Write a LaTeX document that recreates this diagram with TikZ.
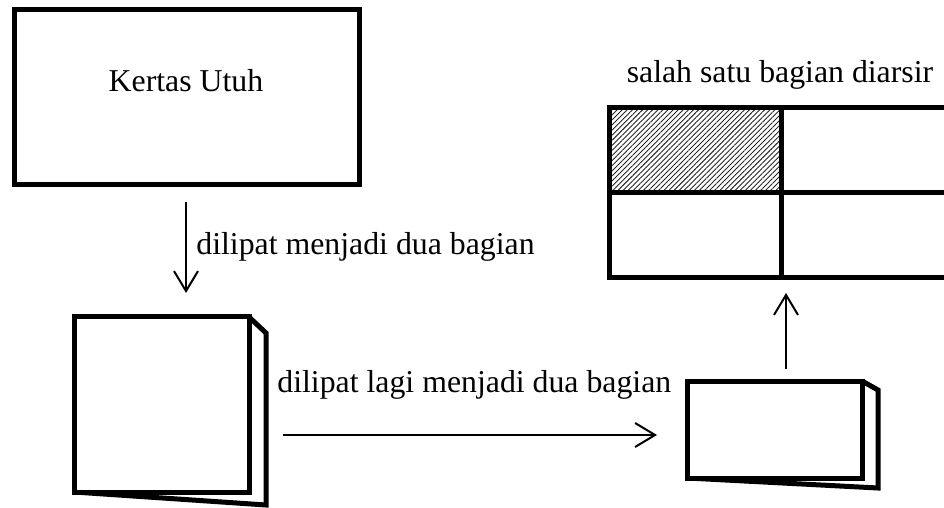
\documentclass[tikz,border=0pt]{standalone}
\usepackage{fontspec}
\setmainfont{Liberation Serif}
\usetikzlibrary{arrows.meta,patterns.meta}
\begin{document}
\begin{tikzpicture}[x=0.5pt,y=-0.5pt,
  thickbox/.style={draw, line width=2.5pt, rectangle, inner sep=0pt, outer sep=0pt},
  backpage/.style={draw, line width=2.5pt, line join=miter},
  lbl/.style={font=\fontsize{15.9}{19}\selectfont, inner sep=0pt},
  arr/.style={line width=1pt, -{Straight Barb[length=10pt,width=12pt,line width=1pt]}}]
\useasboundingbox (0,0) rectangle (944,508);
% whole paper
\node[thickbox, minimum width=172.5pt, minimum height=87.5pt] (kertas) at (186.5,97.5) {};
\node[lbl, anchor=base] (tkertas) at (186,92) {Kertas Utuh};
% first fold
\draw[backpage] (249,317) -- (266,333) -- (266,505) -- (74,492);
\node[thickbox, fill=white, minimum width=87.5pt, minimum height=87.5pt] (lipat1) at (161.5,404.5) {};
% second fold
\draw[backpage] (862,381) -- (878,390) -- (878,488) -- (687,478);
\node[thickbox, fill=white, minimum width=87.5pt, minimum height=48.25pt] (lipat2) at (774.5,429.75) {};
% grid
\begin{scope}
\clip (0,0) rectangle (944,508);
\node[thickbox, pattern={Lines[angle=45,distance=1.8pt,line width=0.45pt]}, pattern color=black!85, minimum width=86pt, minimum height=42.5pt] (c11) at (695,150.5) {};
\node[thickbox, minimum width=86pt, minimum height=42.5pt] (c12) at (867,150.5) {};
\node[thickbox, minimum width=86pt, minimum height=42.5pt] (c21) at (695,235.5) {};
\node[thickbox, minimum width=86pt, minimum height=42.5pt] (c22) at (867,235.5) {};
\end{scope}
\node[lbl, anchor=base] (tarsir) at (780,83) {salah satu bagian diarsir};
% labels
\node[lbl, anchor=base west] (tlipat1) at (196,255) {dilipat menjadi dua bagian};
\node[lbl, anchor=base west] (tlipat2) at (277,393) {dilipat lagi menjadi dua bagian};
% arrows
\coordinate (d1) at (186,202);
\coordinate (d2) at (186,293);
\draw[arr] (d1) -- (d2);
\coordinate (r1) at (283,435);
\coordinate (r2) at (657,435);
\draw[arr] (r1) -- (r2);
\coordinate (u1) at (786,369);
\coordinate (u2) at (786,293);
\draw[arr] (u1) -- (u2);
\end{tikzpicture}
\end{document}
